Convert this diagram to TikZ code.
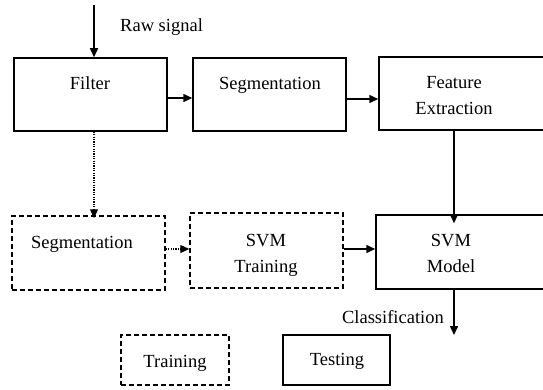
\documentclass[tikz,border=0pt]{standalone}
\usepackage{fontspec}
\setmainfont{Liberation Serif}
\usetikzlibrary{arrows.meta}
\begin{document}
\begin{tikzpicture}[x=1pt,y=-1pt,
  box/.style={draw,line width=1.5pt,rectangle,inner sep=0pt},
  dbox/.style={box,dash pattern=on 5pt off 3pt},
  txt/.style={inner sep=0pt,font=\fontsize{18.5}{26}\selectfont,align=center,anchor=base},
  arr/.style={line width=1.5pt,-{Triangle[length=9pt,width=8pt]}},
  darr/.style={line width=1.3pt,dash pattern=on 1.2pt off 1.2pt,-{Triangle[length=9pt,width=8pt]}}]
\clip (0,0) rectangle (543,390);
\useasboundingbox (0,0) rectangle (543,390);
% boxes
\node[box,minimum width=153pt,minimum height=73pt] (filter) at (90.5,94.5) {};
\node[box,minimum width=153pt,minimum height=73pt] (seg) at (269.5,94.5) {};
\node[box,minimum width=172pt,minimum height=73pt] (fe) at (465,93.5) {};
\node[dbox,minimum width=153pt,minimum height=74pt] (seg2) at (88.5,253) {};
\node[dbox,minimum width=153pt,minimum height=75pt] (svmtr) at (266.5,250.5) {};
\node[box,minimum width=174pt,minimum height=74pt] (model) at (463,252) {};
\node[dbox,minimum width=108pt,minimum height=50pt] (train) at (175,360) {};
\node[box,minimum width=107pt,minimum height=50pt] (test) at (336.5,360) {};
% texts
\node[txt] (tfilter) at (90,90) {Filter};
\node[txt] (tseg) at (270,90) {Segmentation};
\node[txt] (tfe) at (454,115) {Feature\\Extraction};
\node[txt] (tseg2) at (82,248) {Segmentation};
\node[txt] (tsvmtr) at (266,272) {SVM\\Training};
\node[txt] (tmodel) at (451,272) {SVM\\Model};
\node[txt] (ttrain) at (175,367) {Training};
\node[txt] (ttest) at (337,365) {Testing};
\node[txt,anchor=base west] (traw) at (120,32) {Raw signal};
\node[txt,anchor=base east] (tclass) at (444,323) {Classification};
% connectors
\coordinate (rawin) at (94,5);
\coordinate (classout) at (454,335);
\draw[arr] (rawin) -- (rawin |- filter.north);
\draw[arr] ([yshift=-3.5pt]filter.east) -- ([yshift=-3.5pt]seg.west);
\draw[arr] ([yshift=-4.5pt]seg.east) -- ([yshift=-5.5pt]fe.west);
\draw[darr] ([xshift=3.5pt]filter.south) -- ([xshift=5.5pt,yshift=-3pt]seg2.north);
\draw[darr] ([yshift=4pt]seg2.east) -- ([yshift=1.5pt]svmtr.west);
\draw[arr] ([yshift=1.5pt]svmtr.east) -- ([yshift=3pt]model.west);
\draw[arr] (fe.south -| classout) -- ([yshift=-9pt]model.north -| classout);
\draw[arr] (model.south -| classout) -- (classout);
\end{tikzpicture}
\end{document}
